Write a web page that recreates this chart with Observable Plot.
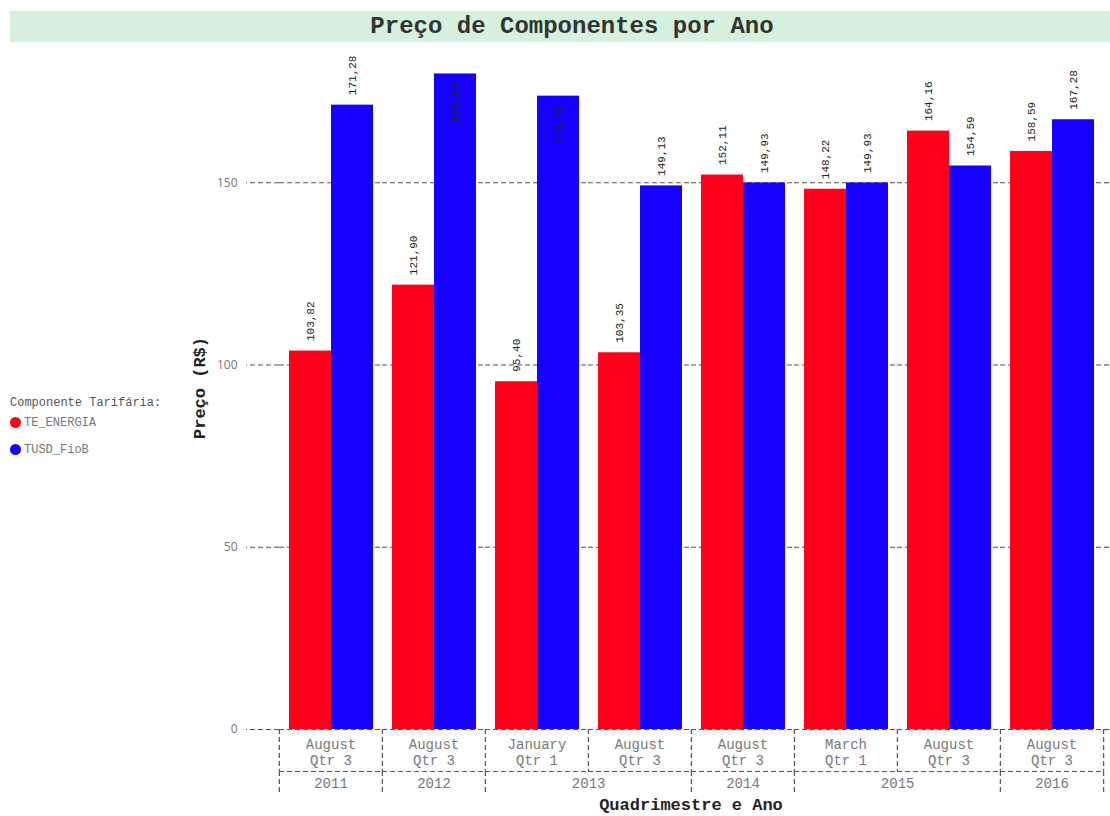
<!DOCTYPE html>
<html>
<head>
<meta charset="utf-8">
<script src="https://cdn.jsdelivr.net/npm/d3@7"></script>
<script src="https://cdn.jsdelivr.net/npm/@observablehq/plot@0.6"></script>
<style>
  body { margin: 0; background: #fff; }
  #wrap { position: relative; width: 1110px; height: 816px; overflow: hidden; font-family: "Liberation Mono", "Courier New", monospace; }
  #chart { position: absolute; left: 0; top: 0; }
  #title { position: absolute; left: 10px; top: 11px; width: 1100px; height: 31px; background: #d5f1de; text-align: center; font-weight: bold; font-size: 24px; line-height: 31px; color: #333; z-index: 2; box-sizing: border-box; padding-left: 24px; }
  .lg { position: absolute; font-size: 12px; line-height: 14px; white-space: nowrap; z-index: 2; }
  .dot { position: absolute; width: 11px; height: 11px; border-radius: 50%; }
  #ytitle { position: absolute; left: 200px; top: 388px; transform: translate(-50%, -50%) rotate(-90deg); font-weight: bold; font-size: 17px; color: #222; white-space: nowrap; z-index: 2; }
  #xtitle { position: absolute; left: 278px; width: 826px; top: 797px; text-align: center; font-weight: bold; font-size: 17px; line-height: 18px; color: #222; z-index: 2; }
</style>
</head>
<body>
<div id="wrap">
  <div id="chart"></div>
  <div id="title">Preço de Componentes por Ano</div>
  <div id="ytitle">Preço (R$)</div>
  <div id="xtitle">Quadrimestre e Ano</div>
  <div id="legend"></div>
</div>
<script>
// ---- data ----
const months    = ["August", "August", "January", "August", "August", "March", "August", "August"];
const quarters  = ["Qtr 3", "Qtr 3", "Qtr 1", "Qtr 3", "Qtr 3", "Qtr 1", "Qtr 3", "Qtr 3"];
const years     = ["2011", "2012", "2013", "2013", "2014", "2015", "2015", "2016"];
const teEnergia = [103.82, 121.90, 95.40, 103.35, 152.11, 148.22, 164.16, 158.59];
const tusdFioB  = [171.28, 179.84, 173.75, 149.13, 149.93, 149.93, 154.59, 167.28];
const seriesNames  = ["TE_ENERGIA", "TUSD_FioB"];
const seriesColors = ["#ff001a", "#1600ff"];
const yTicks = [0, 50, 100, 150];
const legendTitle = "Componente Tarifária:";

// ---- layout ----
const W = 1110, H = 816, mL = 278, mR = 6, mT = 51, mB = 87, yMax = 186;
const mono = "Liberation Mono, Courier New, monospace";

const cats = months.map((m, i) => ({key: `${years[i]} ${m} ${quarters[i]}`, month: m, qtr: quarters[i], year: years[i]}));
const rows = cats.flatMap((c, i) => [
  {key: c.key, series: seriesNames[0], value: teEnergia[i]},
  {key: c.key, series: seriesNames[1], value: tusdFioB[i]}
]);
const step = (W - mL - mR) / cats.length;
const pxPerUnit = (H - mT - mB) / yMax;
const labelRoom = 50;
const fits = d => d.value + labelRoom / pxPerUnit <= yMax;
const fmt = v => v.toFixed(2).replace(".", ",");

const spans = [];
cats.forEach(c => {
  const last = spans[spans.length - 1];
  if (last && last.year === c.year) { last.lastKey = c.key; last.count++; }
  else spans.push({year: c.year, firstKey: c.key, lastKey: c.key, count: 1});
});

const dash = {stroke: "#555", strokeDasharray: "5,3", strokeWidth: 1.2};

const chart = Plot.plot({
  width: W, height: H,
  marginLeft: mL, marginRight: mR, marginTop: mT, marginBottom: mB,
  fx: {domain: cats.map(c => c.key), padding: 0, axis: null, label: null},
  x: {domain: seriesNames, paddingInner: 0, paddingOuter: 0.22, axis: null, label: null},
  y: {domain: [0, yMax], label: null},
  color: {domain: seriesNames, range: seriesColors},
  marks: [
    Plot.ruleY(yTicks, dash),
    // first-level category boxes
    Plot.ruleX(cats, {fx: "key", x: null, dx: -step / 2, y1: 0, y2: 0, insetBottom: -42, ...dash}),
    Plot.ruleX([cats[cats.length - 1]], {fx: "key", x: null, dx: step / 2, y1: 0, y2: 0, insetBottom: -42, ...dash}),
    Plot.ruleY([0], {dy: 42, ...dash}),
    // year separators
    Plot.ruleX(spans, {fx: "firstKey", x: null, dx: -step / 2, y1: 0, y2: 0, insetTop: 42, insetBottom: -66, ...dash}),
    Plot.ruleX([spans[spans.length - 1]], {fx: "lastKey", x: null, dx: step / 2, y1: 0, y2: 0, insetTop: 42, insetBottom: -66, ...dash}),
    // bars
    Plot.barY(rows, {fx: "key", x: "series", y: "value", fill: "series"}),
    // value labels
    Plot.text(rows.filter(fits), {fx: "key", x: "series", y: "value", text: d => fmt(d.value), rotate: -90, textAnchor: "start", dy: -10, fontSize: 11, fontFamily: mono, fill: "#222"}),
    Plot.text(rows.filter(d => !fits(d)), {fx: "key", x: "series", y: "value", text: d => fmt(d.value), rotate: -90, textAnchor: "end", dy: 9, fontSize: 11, fontFamily: mono, fill: "#222"}),
    // category labels
    Plot.text(cats, {fx: "key", text: d => d.month + "\n" + d.qtr, frameAnchor: "bottom", lineAnchor: "top", dy: 7, lineHeight: 1.21, fontSize: 14, fontFamily: mono, fill: "#777"}),
    Plot.text(spans.filter(s => s.count === 1), {fx: "firstKey", text: "year", frameAnchor: "bottom", dy: 58, fontSize: 14, fontFamily: mono, fill: "#777"}),
    Plot.text(spans.filter(s => s.count === 2), {fx: "firstKey", text: "year", frameAnchor: "bottom", dx: step / 2, dy: 58, fontSize: 14, fontFamily: mono, fill: "#777"}),
    // y axis
    Plot.axisY(yTicks, {tickSize: 33, tickPadding: 9, stroke: "#555", strokeWidth: 1.2, strokeDasharray: "5,3", fill: "#777", fontSize: 12, fontFamily: "Open Sans, sans-serif", label: null}),
    Plot.axisY(yTicks, {anchor: "right", tickSize: 6, stroke: "#555", strokeWidth: 1.2, strokeDasharray: "5,3", fill: "none", label: null})
  ]
});
document.getElementById("chart").appendChild(chart);

// legend
const lg = document.getElementById("legend");
const head = document.createElement("div");
head.className = "lg"; head.style.left = "10px"; head.style.top = "396px"; head.style.color = "#555";
head.textContent = legendTitle;
lg.appendChild(head);
seriesNames.forEach((s, i) => {
  const top = 416 + i * 27;
  const dot = document.createElement("div");
  dot.className = "dot"; dot.style.left = "10px"; dot.style.top = (top + 1) + "px"; dot.style.background = seriesColors[i];
  lg.appendChild(dot);
  const t = document.createElement("div");
  t.className = "lg"; t.style.left = "24px"; t.style.top = top + "px"; t.style.color = "#777";
  t.textContent = s;
  lg.appendChild(t);
});
</script>
</body>
</html>
